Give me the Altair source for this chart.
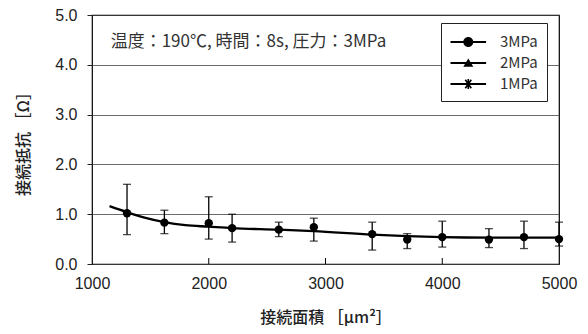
import math
import altair as alt
import pandas as pd

# measured points (3MPa)
area = [1300, 1620, 2000, 2200, 2600, 2900, 3400, 3700, 4000, 4400, 4700, 5000]
resist = [1.02, 0.83, 0.82, 0.72, 0.69, 0.74, 0.60, 0.49, 0.54, 0.49, 0.54, 0.50]
err_hi = [1.60, 1.08, 1.35, 1.00, 0.84, 0.92, 0.84, 0.61, 0.86, 0.71, 0.86, 0.84]
err_lo = [0.59, 0.61, 0.50, 0.44, 0.55, 0.46, 0.28, 0.31, 0.34, 0.33, 0.31, 0.36]

# fitted curve
fit_x = [1150, 1300, 1450, 1620, 1800, 2000, 2200, 2600, 2900, 3400, 3700, 4000, 4400, 4700, 5000]
fit_y = [1.16, 1.04, 0.93, 0.84, 0.78, 0.75, 0.72, 0.69, 0.66, 0.59, 0.56, 0.54, 0.53, 0.53, 0.53]

series = ["3MPa", "2MPa", "1MPa"]
x_ticks = [1000, 2000, 3000, 4000, 5000]
y_ticks = [0, 1, 2, 3, 4, 5]
inner_ticks = [2000, 3000, 4000]
note = "温度：190℃, 時間：8s, 圧力：3MPa"

pts = pd.DataFrame({"area": area, "r": resist, "hi": err_hi, "lo": err_lo})
fit = pd.DataFrame({"area": fit_x, "r": fit_y})
leg = pd.DataFrame({"s": series})
itk = pd.DataFrame({"area": inner_ticks, "y0": [0] * 3, "y1": [0.12] * 3})
nt = pd.DataFrame({"area": [1160], "r": [4.45], "t": [note]})


def bar(theta_deg, half_len, half_w):
    t = math.radians(theta_deg)
    d = (math.cos(t), math.sin(t))
    n = (-math.sin(t), math.cos(t))
    pts_ = [(-half_len * d[0] - half_w * n[0], -half_len * d[1] - half_w * n[1]),
            (half_len * d[0] - half_w * n[0], half_len * d[1] - half_w * n[1]),
            (half_len * d[0] + half_w * n[0], half_len * d[1] + half_w * n[1]),
            (-half_len * d[0] + half_w * n[0], -half_len * d[1] + half_w * n[1])]
    return "M" + "L".join(f"{x:.3f},{y:.3f}" for x, y in pts_) + "Z"


LINE = bar(0, 1.78, 0.1)
circ = LINE + "M0.5,0A0.5,0.5,0,1,1,-0.5,0A0.5,0.5,0,1,1,0.5,0Z"
tri = LINE + "M0,-0.45L0.5,0.38L-0.5,0.38Z"
ast = LINE + bar(90, 0.5, 0.08) + bar(55, 0.52, 0.08) + bar(-55, 0.52, 0.08)

FONT = "Liberation Sans"
JP = "Noto Sans CJK JP"

xs = alt.Scale(domain=[1000, 5000], nice=False, zero=False)
ys = alt.Scale(domain=[0, 5], nice=False)

xax = alt.Axis(values=x_ticks, format="d", grid=False, tickSize=0, labelPadding=11,
               labelFlush=False, labelOverlap=False,
               labelFont=FONT, labelFontSize=16, labelColor="#222", domain=False,
               title="接続面積 ［μm²］", titleFont=JP, titleFontSize=16, titleFontWeight=500,
               titleColor="#222", titleY=53, titleBaseline="middle")
yax = alt.Axis(values=y_ticks, format=".1f", grid=True, gridColor="#444", gridWidth=0.8,
               tickSize=5, tickColor="#222", labelPadding=10, labelFont=FONT, labelFontSize=16,
               labelColor="#222", domain=False, labelFlush=False, labelOverlap=False,
               title="接続抵抗 ［Ω］", titleFont=JP, titleFontSize=16, titleFontWeight=500,
               titleColor="#222", titleX=-69, titleY=124.5, titleAngle=270,
               titleAlign="center", titleBaseline="middle")

base_x = alt.X("area:Q", scale=xs, axis=xax)
base_y = alt.Y("r:Q", scale=ys, axis=yax)

curve = alt.Chart(fit).mark_line(interpolate="monotone", color="black", strokeWidth=2.4).encode(
    x=base_x, y=base_y)

bars = alt.Chart(pts).mark_rule(color="black", strokeWidth=1.3).encode(
    x=alt.X("area:Q", scale=xs), y=alt.Y("lo:Q", scale=ys), y2="hi:Q")
cap_hi = alt.Chart(pts).mark_tick(orient="horizontal", color="black", size=8, thickness=1.3).encode(
    x=alt.X("area:Q", scale=xs), y=alt.Y("hi:Q", scale=ys))
cap_lo = alt.Chart(pts).mark_tick(orient="horizontal", color="black", size=8, thickness=1.3).encode(
    x=alt.X("area:Q", scale=xs), y=alt.Y("lo:Q", scale=ys))
dots = alt.Chart(pts).mark_circle(color="black", size=70, opacity=1).encode(
    x=alt.X("area:Q", scale=xs), y=alt.Y("r:Q", scale=ys))

itick = alt.Chart(itk).mark_rule(color="black", strokeWidth=1).encode(
    x=alt.X("area:Q", scale=xs), y=alt.Y("y0:Q", scale=ys), y2="y1:Q")

text = alt.Chart(nt).mark_text(align="left", baseline="middle", font=JP, fontSize=17,
                               color="#333").encode(
    x=alt.X("area:Q", scale=xs), y=alt.Y("r:Q", scale=ys), text="t:N")

legend_layer = alt.Chart(leg).mark_point(clip=True, filled=True, color="black",
                                         opacity=1).encode(
    x=alt.value(-500), y=alt.value(-500),
    shape=alt.Shape("s:N", scale=alt.Scale(domain=series, range=[circ, tri, ast]),
                    legend=alt.Legend(title=None, orient="none", legendX=349, legendY=8,
                                      padding=9, strokeColor="#222", fillColor="white",
                                      symbolSize=400, symbolStrokeWidth=0,
                                      symbolFillColor="black", symbolOpacity=1,
                                      labelFont=JP, labelFontSize=15, labelColor="#333",
                                      labelOffset=21.6, rowPadding=3, symbolOffset=8.3)))

chart = alt.layer(itick, curve, bars, cap_hi, cap_lo, dots, text, legend_layer).properties(
    width=467, height=249,
    background="white",
    autosize=alt.AutoSizeParams(type="none"),
    padding={"left": 84, "top": 7, "right": 21, "bottom": 62},
).configure_view(stroke="black", strokeWidth=1.2)

chart.save("out.html", embed_options={"renderer": "svg", "actions": False})
